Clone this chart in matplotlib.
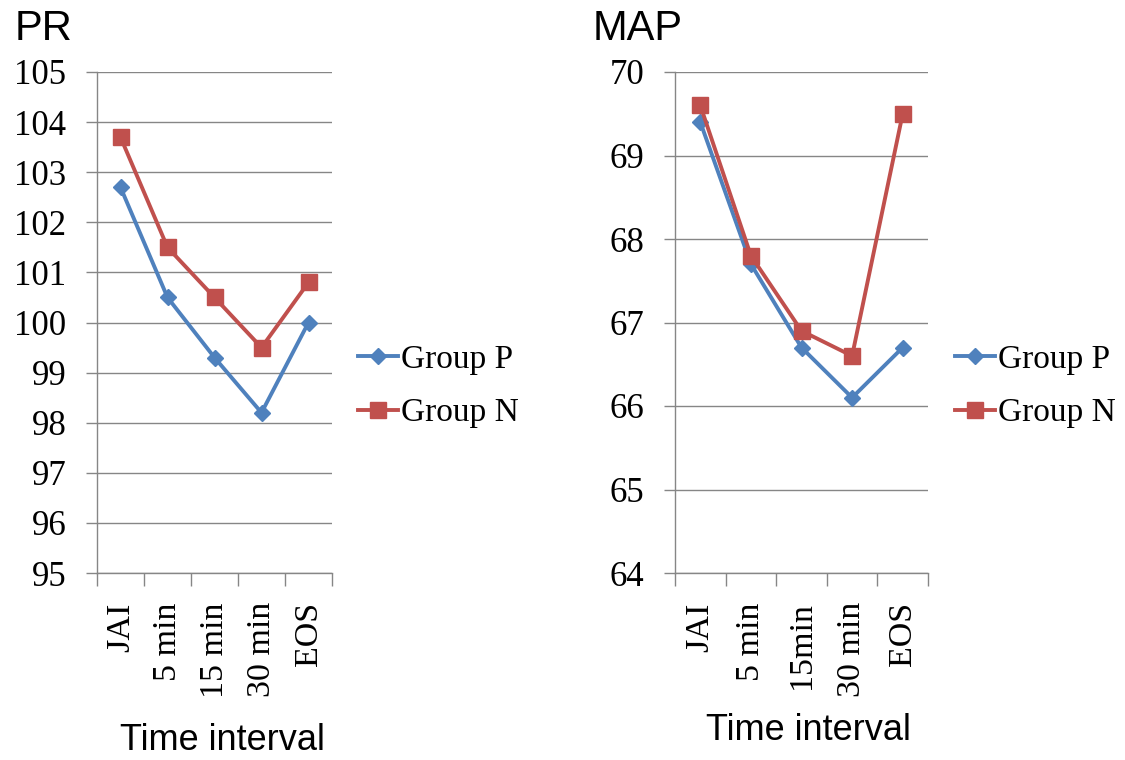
import numpy as np
import matplotlib
matplotlib.use("Agg")
import matplotlib.pyplot as plt

times_pr = ["JAI", "5 min", "15 min", "30 min", "EOS"]
times_map = ["JAI", "5 min", "15min", "30 min", "EOS"]

pr_p = [102.7, 100.5, 99.3, 98.2, 100.0]
pr_n = [103.7, 101.5, 100.5, 99.5, 100.8]

map_p = [69.4, 67.7, 66.7, 66.1, 66.7]
map_n = [69.6, 67.8, 66.9, 66.6, 69.5]

blue = "#4F81BD"
red = "#C0504D"
grey = "#868686"
serif = "Liberation Serif"
sans = "Liberation Sans"

fig = plt.figure(figsize=(11.25, 7.6), dpi=100)


def panel(rect, cats, yp, yn, ylo, yhi, title, title_x, xlab_xy, leg_x):
    ax = fig.add_axes(rect)
    x = np.arange(len(cats))
    ax.plot(x, yp, color=blue, lw=2.8, marker="D", ms=8.5, label="Group P")
    ax.plot(x, yn, color=red, lw=2.8, marker="s", ms=11, label="Group N")
    ax.set_xlim(-0.5, len(cats) - 0.5)
    ax.set_ylim(ylo, yhi)
    ax.set_yticks(np.arange(ylo, yhi + 1))
    ax.grid(axis="y", color=grey, lw=1.0)
    ax.set_axisbelow(True)
    for s in ["top", "right"]:
        ax.spines[s].set_visible(False)
    for s in ["left", "bottom"]:
        ax.spines[s].set_color(grey)
        ax.spines[s].set_linewidth(1.0)
    ax.set_xticks(x)
    ax.set_xticklabels(cats, rotation=90, fontfamily=serif, fontsize=24.5)
    ax.set_xticks(np.arange(-0.5, len(cats)), minor=True)
    ax.tick_params(axis="x", which="major", length=0, pad=21)
    ax.tick_params(axis="x", which="minor", length=9, color=grey, width=1.0)
    ax.tick_params(axis="y", length=8, color=grey, width=1.0, pad=14, labelsize=25)
    for t in ax.get_yticklabels():
        t.set_fontfamily(serif)
    fig.text(title_x, 1 - 29 / 760, title, fontfamily=sans, fontsize=30,
             ha="left", va="center")
    fig.text(xlab_xy[0] / 1125, 1 - xlab_xy[1] / 760, "Time interval",
             fontfamily=sans, fontsize=26, ha="center", va="center")
    ax.legend(loc="center left", bbox_to_anchor=(leg_x, 0.4915),
              bbox_transform=fig.transFigure, frameon=False, borderpad=0,
              borderaxespad=0, handlelength=1.2, handletextpad=0.1,
              labelspacing=0.68, prop={"family": serif, "size": 24})
    return ax


panel([97 / 1125, 1 - 573 / 760, 235 / 1125, 501 / 760], times_pr, pr_p, pr_n,
      95, 105, "PR", 15 / 1125, (222, 741), 358 / 1125)
panel([675 / 1125, 1 - 573 / 760, 253 / 1125, 501 / 760], times_map, map_p, map_n,
      64, 70, "MAP", 593 / 1125, (808, 731), 955 / 1125)

fig.savefig("out.png", dpi=100)
